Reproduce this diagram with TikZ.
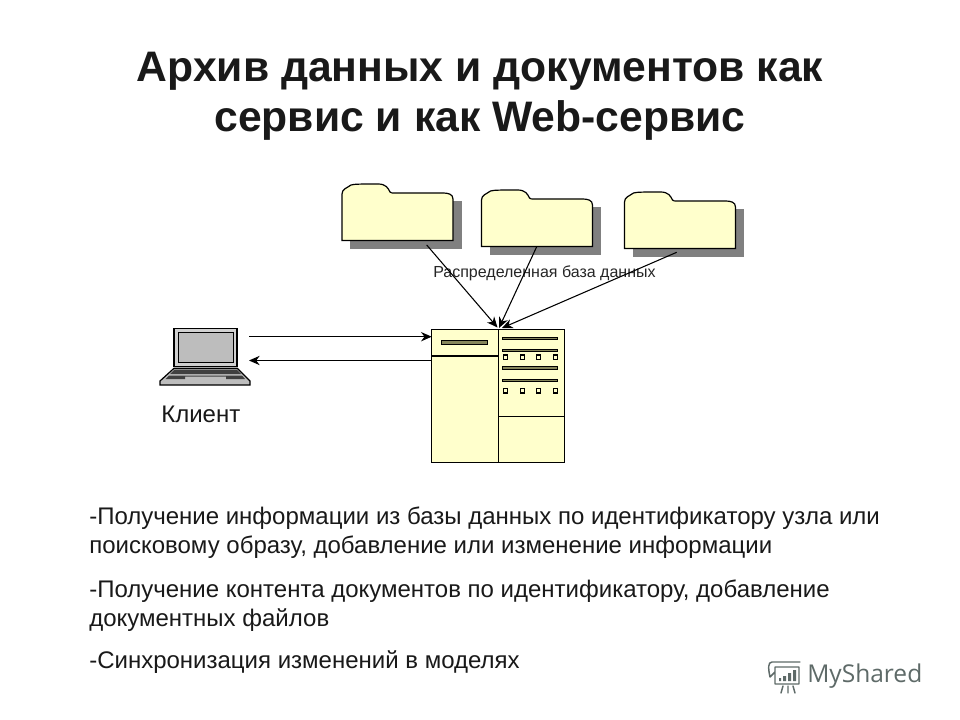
\documentclass[tikz,border=0pt]{standalone}
\usepackage{fontspec}
\setmainfont{Liberation Sans}
\newfontfamily\wmfont{Open Sans}
\usetikzlibrary{arrows.meta}
\definecolor{paleY}{HTML}{FFFFCC}
\definecolor{barO}{HTML}{85855A}
\definecolor{shadowG}{HTML}{808080}
\definecolor{lapG}{HTML}{BDBDBD}
\definecolor{wmG}{HTML}{5E6A68}
\tikzset{
  x=0.75pt,y=-0.75pt,
  outline/.style={draw=black,line width=0.9pt,fill=paleY},
  barbox/.style={draw=black,line width=0.7pt,fill=barO},
  sq/.style={draw=black,line width=0.9pt,fill=paleY},
  conn/.style={draw=black,line width=0.8pt,-{Stealth[length=8pt,width=7pt]}},
  txt/.style={inner sep=0pt,anchor=base west,text=black},
  titletxt/.style={inner sep=0pt,anchor=base,font=\fontsize{32}{38}\bfseries\selectfont,text=black!90},
  bodytxt/.style={txt,font=\fontsize{18}{21}\selectfont,text=black!90},
  wm/.style={draw=wmG,line width=1.1pt,line cap=round,line join=round}
}
\newcommand{\folderat}[3]{%
  \begin{scope}[shift={(#1,#2)}]
    \fill[shadowG] (8,17) rectangle (119.5,64.7);
    \draw[outline] (0,56.5) -- (0,10) .. controls (0,5) and (5,4) .. (9,1) .. controls (12,0) and (20,0) .. (36,0)
      .. controls (44,0) and (46,4) .. (48,8) .. controls (49,9) and (50,9) .. (52,9) -- (101,9)
      .. controls (106,9) and (111,10) .. (111,15) -- (111,56.5) -- cycle;
    \coordinate (#3) at (0,0);
  \end{scope}}
\begin{document}
\begin{tikzpicture}
\useasboundingbox (0,0) rectangle (960,720);
\fill[white] (0,0) rectangle (960,720);
% title
\node[titletxt] (t1) at (480,81.5) {Архив данных и документов как};
\node[titletxt] (t2) at (480,132) {сервис и как Web-сервис};
% folders
\folderat{342}{184}{f1}
\folderat{481.5}{190}{f2}
\folderat{624.5}{192}{f3}
\node[txt,font=\fontsize{12}{14}\selectfont,text=black!85] (dist) at (433,277) {Распределенная база данных};
% server
\draw[outline] (431.7,329.3) rectangle (564.3,462.3);
\node[inner sep=0pt,minimum width=99.4pt,minimum height=99.75pt] (srv) at (498,395.8) {};
\draw[line width=0.9pt] (498.3,329.3) -- (498.3,462.3);
\draw[line width=0.8pt] (431.7,356) -- (498.3,356);
\draw[line width=0.8pt] (498.3,416.7) -- (564.3,416.7);
\draw[barbox] (441.3,340) rectangle (487.7,344.3);
\foreach \yy in {337,349.2,366.6,379.2}
  \draw[barbox] (502.7,\yy) rectangle (557.7,\yy+2.6);
\foreach \xx in {503.3,520.4,536.3,553.5}{
  \draw[sq] (\xx,355) rectangle (\xx+4,359.3);
  \draw[sq] (\xx,388.7) rectangle (\xx+4,393);
}
% connector ends
\coordinate (a1) at (426.7,245);
\coordinate (a2) at (536.7,246.7);
\coordinate (a3) at (676.7,252.3);
\coordinate (b1) at (497.5,327.5);
\coordinate (b2) at (499,328);
\coordinate (b3) at (502,328);
\draw[conn] (a1) -- (b1);
\draw[conn] (a2) -- (b2);
\draw[conn] (a3) -- (b3);
% laptop
\draw[draw=black,line width=0.9pt,fill=lapG!70!white] (174,328.3) rectangle (237,366.7);
\draw[draw=black,line width=0.9pt,fill=lapG] (178.3,332.7) rectangle (233.3,362.3);
\draw[draw=black,line width=0.9pt,fill=lapG] (174,368.3) -- (237.3,368.3) -- (250,381) -- (250,385) -- (160,385) -- (160,381) -- cycle;
\fill[black!75] (174.5,369.5) -- (236.5,369.5) -- (241,374) -- (170,374) -- cycle;
\fill[black!75] (169,375.5) -- (242,375.5) -- (245,379) -- (226,379) -- (226,376.5) -- (185,376.5) -- (185,379) -- (165.5,379) -- cycle;
\node[inner sep=0pt,minimum width=67.5pt,minimum height=42pt] (lap) at (205,356.5) {};
\node[txt,font=\fontsize{18}{21}\selectfont,text=black!90] (cl) at (161,422) {Клиент};
% client arrows
\coordinate (c1) at (249,336.7);
\coordinate (c2) at (431.7,336.7);
\coordinate (c3) at (431.7,360.5);
\coordinate (c4) at (249,360.5);
\draw[conn] (c1) -- (c2);
\draw[conn] (c3) -- (c4);
% body
\node[bodytxt] (l1) at (89,524) {-Получение информации из базы данных по идентификатору узла или};
\node[bodytxt] (l2) at (89,553) {поисковому образу, добавление или изменение информации};
\node[bodytxt] (l3) at (89,597) {-Получение контента документов по идентификатору, добавление};
\node[bodytxt] (l4) at (89,626) {документных файлов};
\node[bodytxt] (l5) at (89,668) {-Синхронизация изменений в моделях};
% watermark
\node[inner sep=0pt,anchor=base west,font=\wmfont\fontsize{18.4}{22}\selectfont,text=wmG] (wmk) at (807,682) {MyShared};
\draw[wm] (772,662) -- (800,662) (772,662) .. controls (768,662) and (768,668) .. (770,677) -- (775,672) -- (775,667) -- (799,667) -- (799,684) -- (775,684) -- (775,672);
\draw[wm] (783,686) -- (781,693) (788,686) -- (788,693) (793,686) -- (795,693);
\fill[wmG] (779,678) rectangle (781,681) (783,676) rectangle (786,681) (788,673) rectangle (791,681) (793,670) rectangle (796,681);
\end{tikzpicture}
\end{document}
